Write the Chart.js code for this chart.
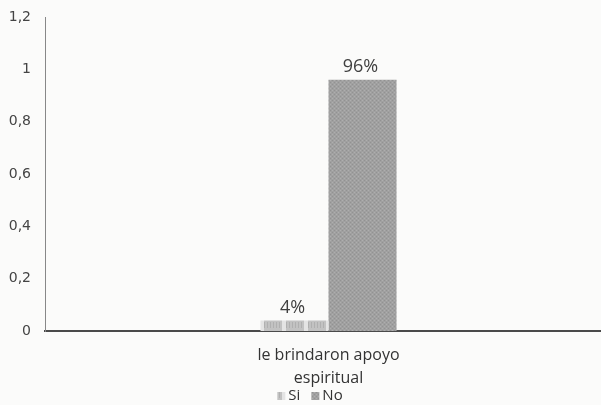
<!DOCTYPE html>
<html>
<head>
<meta charset="utf-8">
<script src="https://cdn.jsdelivr.net/npm/chart.js@4/dist/chart.umd.min.js"></script>
<style>
  html, body { margin: 0; padding: 0; background: #fbfbfa; overflow: hidden; }
  #wrap { width: 601px; height: 405px; position: relative; overflow: hidden; }
  #c { position: absolute; left: 0; top: 0; }
</style>
</head>
<body>
<div id="wrap"><canvas id="c" width="612" height="405"></canvas></div>
<script>
// Categories, series and axis ticks
const categories = [["le brindaron apoyo", "espiritual"]];
const seriesNames = ["Si", "No"];
const siValues = [0.04];
const noValues = [0.96];
const valueLabels = [["4%"], ["96%"]];
const yTicks = [0, 0.2, 0.4, 0.6, 0.8, 1, 1.2];

// Light dashed fill for "Si"
function siPattern() {
  const p = document.createElement('canvas');
  p.width = 22; p.height = 10;
  const g = p.getContext('2d');
  g.fillStyle = '#c2c2c2';
  g.fillRect(0, 0, 22, 10);
  g.fillStyle = '#e4e4e4';
  g.fillRect(18, 0, 4, 10);
  g.fillStyle = '#b0b0b0';
  for (let x = 0; x < 18; x += 3) g.fillRect(x, 2, 1, 6);
  return g.createPattern(p, 'repeat');
}
// Grainy mid-grey fill for "No"
function noPattern() {
  const p = document.createElement('canvas');
  p.width = 4; p.height = 4;
  const g = p.getContext('2d');
  g.fillStyle = '#a0a0a0';
  g.fillRect(0, 0, 4, 4);
  g.fillStyle = '#929292';
  g.fillRect(0, 0, 1, 1); g.fillRect(2, 2, 1, 1);
  g.fillStyle = '#aeaeae';
  g.fillRect(2, 0, 1, 1); g.fillRect(0, 2, 1, 1);
  return g.createPattern(p, 'repeat');
}

// Percentage labels above bars
const valueLabelPlugin = {
  id: 'valueLabels',
  afterDatasetsDraw(chart) {
    const ctx = chart.ctx;
    ctx.save();
    ctx.font = '18px "Open Sans", sans-serif';
    ctx.fillStyle = '#404040';
    ctx.textAlign = 'center';
    ctx.textBaseline = 'alphabetic';
    chart.data.datasets.forEach((ds, i) => {
      chart.getDatasetMeta(i).data.forEach((bar, j) => {
        ctx.fillText(valueLabels[i][j], bar.x - 2, bar.y - 8);
      });
    });
    ctx.restore();
  }
};

// Compact legend row under the category label
const compactLegend = {
  id: 'compactLegend',
  afterDraw(chart) {
    const ctx = chart.ctx;
    const y = 396;
    const items = chart.data.datasets.map(ds => ({ text: ds.label, fill: ds.backgroundColor }));
    ctx.save();
    ctx.font = '15px "Open Sans", sans-serif';
    ctx.textBaseline = 'middle';
    ctx.textAlign = 'left';
    const box = 8, gapBox = 3, gapItem = 11;
    const widths = items.map(it => box + gapBox + ctx.measureText(it.text).width);
    const total = widths.reduce((a, b) => a + b, 0) + gapItem * (items.length - 1);
    let x = 310 - total / 2;
    items.forEach((it, i) => {
      ctx.fillStyle = it.fill;
      ctx.fillRect(x, y - 4, box, box);
      ctx.fillStyle = '#333';
      ctx.fillText(it.text, x + box + gapBox, y);
      x += widths[i] + gapItem;
    });
    ctx.restore();
  }
};

new Chart(document.getElementById('c'), {
  type: 'bar',
  data: {
    labels: categories,
    datasets: [
      { label: seriesNames[0], data: siValues, backgroundColor: siPattern() },
      { label: seriesNames[1], data: noValues, backgroundColor: noPattern() }
    ]
  },
  options: {
    responsive: false,
    animation: false,
    layout: { padding: { left: 0, right: 0, top: 17, bottom: 17 } },
    datasets: { bar: { barPercentage: 1, categoryPercentage: 0.24 } },
    plugins: {
      legend: { display: false },
      tooltip: { enabled: false }
    },
    scales: {
      x: {
        afterFit(scale) { scale.height = 57; },
        grid: { display: false, drawTicks: false },
        border: { display: true, color: '#4a4a4a', width: 2, dash: [2, 1] },
        ticks: {
          color: '#333', padding: 13,
          font: { family: '"Open Sans", sans-serif', size: 16, lineHeight: 1.4375 }
        }
      },
      y: {
        min: 0, max: 1.2,
        afterBuildTicks(axis) { axis.ticks = yTicks.map(v => ({ value: v })); },
        afterFit(scale) { scale.width = 45; scale.paddingTop = 0; scale.paddingBottom = 0; },
        grid: { display: false, drawTicks: false },
        border: { display: true, color: '#888', width: 1, dash: [1, 1] },
        ticks: {
          color: '#444', padding: 14,
          font: { family: '"DejaVu Sans", sans-serif', size: 14 },
          callback: v => String(Math.round(v * 10) / 10).replace('.', ',')
        }
      }
    }
  },
  plugins: [valueLabelPlugin, compactLegend]
});
</script>
</body>
</html>
